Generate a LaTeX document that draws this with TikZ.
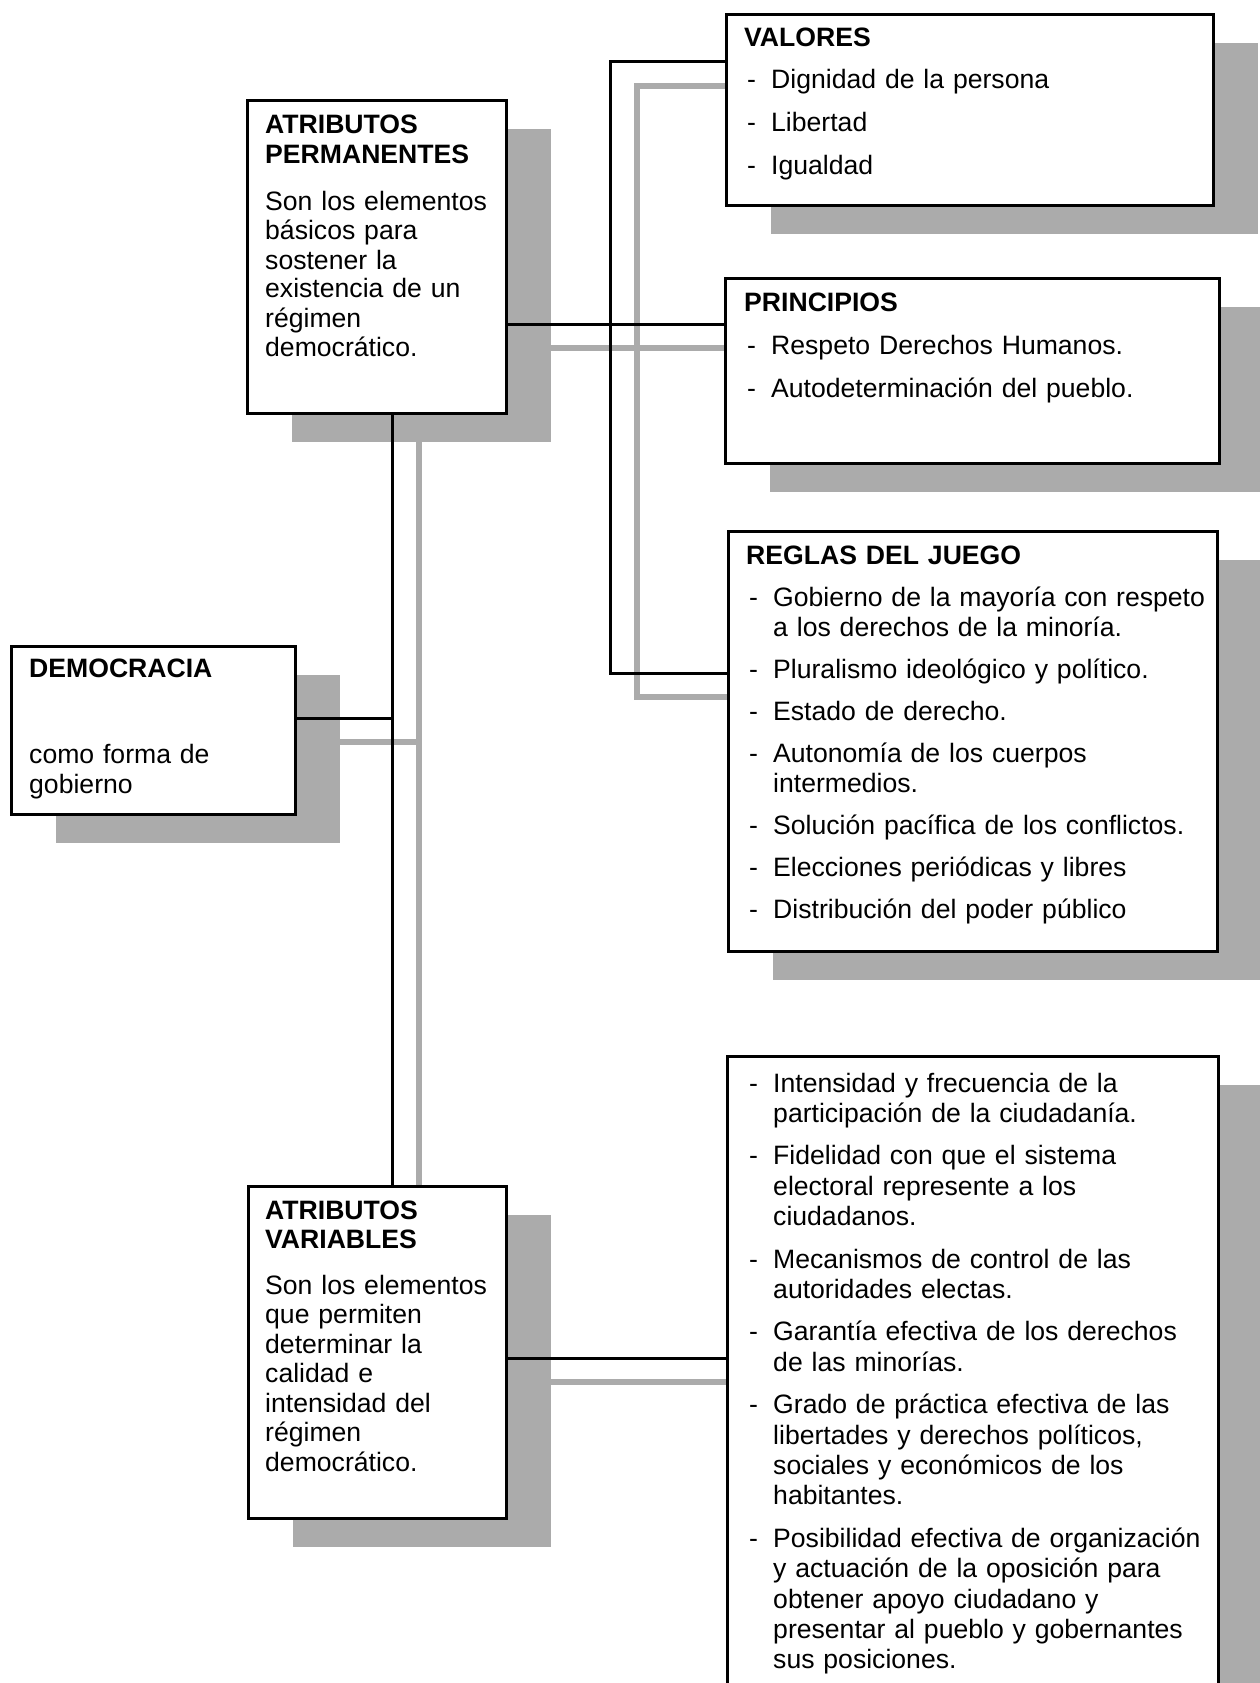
\documentclass[tikz,border=0pt]{standalone}
\usepackage{fontspec}
\setmainfont{Liberation Sans}
\usepackage{tikz}
\usetikzlibrary{positioning, shadows, backgrounds}
\newcommand{\itemdash}{\makebox[27pt][l]{\hspace{3pt}-}}
\newcommand{\itemind}{\hspace*{27pt}}

\begin{document}
\begin{tikzpicture}[x=1pt, y=-1pt,
    box/.style={shape=rectangle, draw=black, line width=2.6pt, fill=white, inner sep=0pt, anchor=north west,
      drop shadow={shadow xshift=45pt, shadow yshift=-29pt, fill=black!33, opacity=1}},
    txt/.style={inner sep=0pt, align=left, font=\fontsize{26.6pt}{30pt}\selectfont},
    link/.style={draw=black, line width=3pt},
    shadowlink/.style={draw=black!33, line width=6pt}]

    \useasboundingbox (0,0) rectangle (1260,1683);
    \clip (0,0) rectangle (1260,1683);

    \node[box, minimum width=284pt, minimum height=168pt] (democracia) at (10,645) {};
    \node[box, minimum width=259pt, minimum height=313pt] (permanentes) at (246,99) {};
    \node[box, minimum width=258pt, minimum height=332pt] (variables) at (247,1185) {};
    \node[box, minimum width=487pt, minimum height=191pt] (valores) at (725,13) {};
    \node[box, minimum width=494pt, minimum height=185pt] (principios) at (724,277) {};
    \node[box, minimum width=489pt, minimum height=420pt] (reglas) at (727,530) {};
    \node[box, minimum width=491pt, minimum height=700pt] (calidad) at (726,1055) {};

    \node[txt, text width=250pt, below right=32pt and 19pt of democracia.north west, anchor=base west] (democraciatxt)
      {{\bfseries DEMOCRACIA}\\[56pt] como forma de\\ gobierno};
    \node[txt, text width=235pt, below right=35pt and 19pt of permanentes.north west, anchor=base west,
      font=\fontsize{26.6pt}{29pt}\selectfont] (permanentestxt)
      {{\bfseries ATRIBUTOS\\ PERMANENTES}\\[19pt] Son los elementos\\ básicos para\\ sostener la\\ existencia de un\\ régimen\\ democrático.};
    \node[txt, text width=235pt, below right=34pt and 18pt of variables.north west, anchor=base west,
      font=\fontsize{26.6pt}{29.5pt}\selectfont] (variablestxt)
      {{\bfseries ATRIBUTOS\\ VARIABLES}\\[16pt] Son los elementos\\ que permiten\\ determinar la\\ calidad e\\ intensidad del\\ régimen\\ democrático.};
    \node[txt, text width=470pt, below right=34pt and 19pt of valores.north west, anchor=base west] (valorestxt)
      {{\bfseries VALORES}\\[12pt]
       \itemdash Dignidad de la persona\\[13pt]
       \itemdash Libertad\\[13pt]
       \itemdash Igualdad};
    \node[txt, text width=470pt, below right=34pt and 20pt of principios.north west, anchor=base west] (principiostxt)
      {{\bfseries PRINCIPIOS}\\[13pt]
       \itemdash Respeto Derechos Humanos.\\[13pt]
       \itemdash Autodeterminación del pueblo.};
    \node[txt, text width=470pt, below right=34pt and 19pt of reglas.north west, anchor=base west] (reglastxt)
      {{\bfseries REGLAS DEL JUEGO}\\[12pt]
       \itemdash Gobierno de la mayoría con respeto\\
       \itemind a los derechos de la minoría.\\[12pt]
       \itemdash Pluralismo ideológico y político.\\[12pt]
       \itemdash Estado de derecho.\\[12pt]
       \itemdash Autonomía de los cuerpos\\
       \itemind intermedios.\\[12pt]
       \itemdash Solución pacífica de los conflictos.\\[12pt]
       \itemdash Elecciones periódicas y libres\\[12pt]
       \itemdash Distribución del poder público};
    \node[txt, text width=470pt, below right=37pt and 20pt of calidad.north west, anchor=base west,
      font=\fontsize{26.6pt}{30.4pt}\selectfont] (calidadtxt)
      {\itemdash Intensidad y frecuencia de la\\
       \itemind participación de la ciudadanía.\\[12pt]
       \itemdash Fidelidad con que el sistema\\
       \itemind electoral represente a los\\
       \itemind ciudadanos.\\[12pt]
       \itemdash Mecanismos de control de las\\
       \itemind autoridades electas.\\[12pt]
       \itemdash Garantía efectiva de los derechos\\
       \itemind de las minorías.\\[12pt]
       \itemdash Grado de práctica efectiva de las\\
       \itemind libertades y derechos políticos,\\
       \itemind sociales y económicos de los\\
       \itemind habitantes.\\[12pt]
       \itemdash Posibilidad efectiva de organización\\
       \itemind y actuación de la oposición para\\
       \itemind obtener apoyo ciudadano y\\
       \itemind presentar al pueblo y gobernantes\\
       \itemind sus posiciones.};

    \coordinate (trunk) at (392,718);
    \coordinate (bus) at (610,324);
    \coordinate (bustop) at (610,62);
    \coordinate (busbot) at (610,673);
    \coordinate (varlink) at (610,1358);

    \begin{scope}[on background layer]
      \begin{scope}[transform canvas={shift={(27pt,-24pt)}}]
        \draw[shadowlink] (valores.west |- bustop) -- (bustop) -- (busbot) -- (reglas.west |- busbot);
        \draw[shadowlink] (permanentes.east |- bus) -- (principios.west |- bus);
        \draw[shadowlink] (trunk |- permanentes.south) -- (trunk |- variables.north);
        \draw[shadowlink] (democracia.east |- trunk) -- (trunk);
        \draw[shadowlink] (variables.east |- varlink) -- (calidad.west |- varlink);
      \end{scope}
    \end{scope}

    \draw[link] (valores.west |- bustop) -- (bustop) -- (busbot) -- (reglas.west |- busbot);
    \draw[link] (permanentes.east |- bus) -- (principios.west |- bus);
    \draw[link] (trunk |- permanentes.south) -- (trunk |- variables.north);
    \draw[link] (democracia.east |- trunk) -- (trunk);
    \draw[link] (variables.east |- varlink) -- (calidad.west |- varlink);
\end{tikzpicture}
\end{document}
